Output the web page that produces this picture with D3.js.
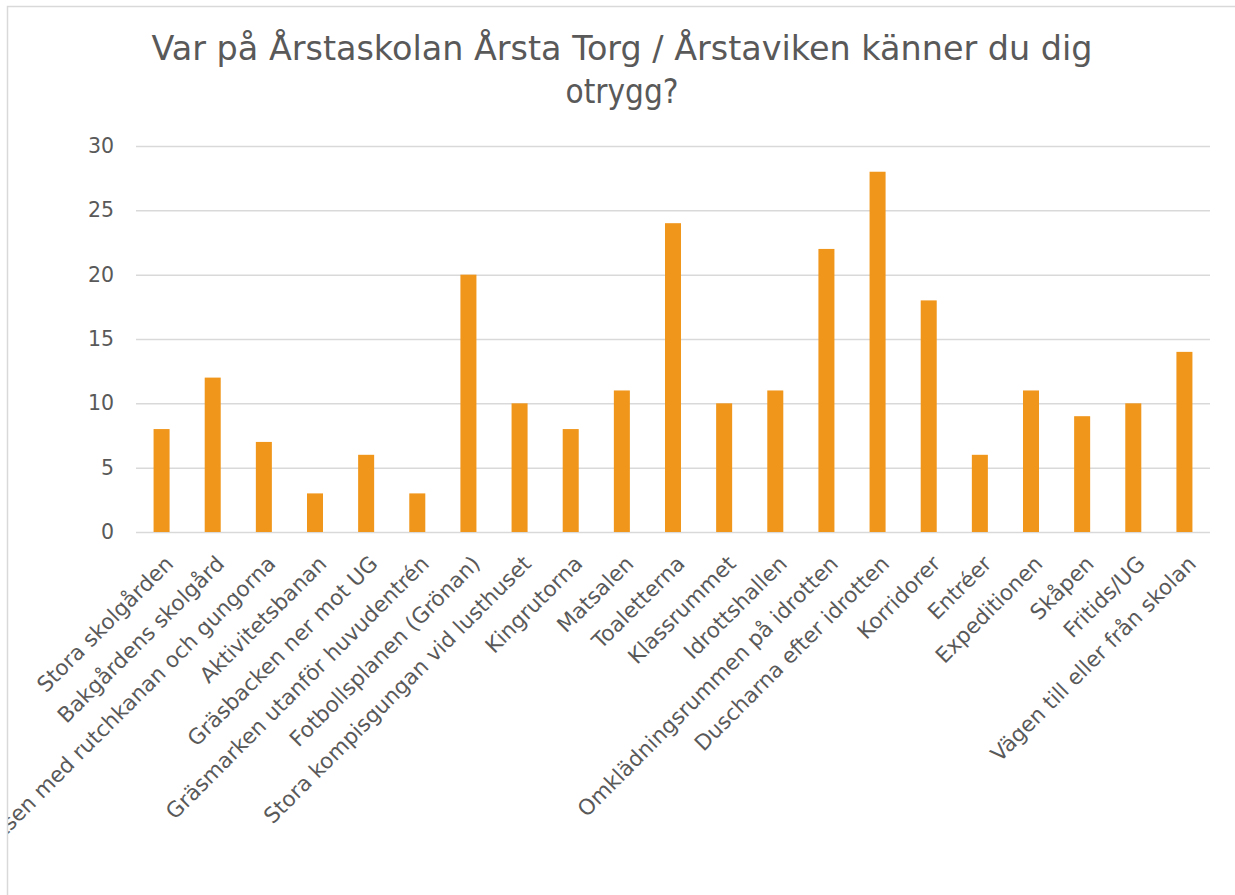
<!DOCTYPE html>
<html>
<head>
<meta charset="utf-8">
<script src="https://cdn.jsdelivr.net/npm/d3@7"></script>
<style>
  body { margin: 0; background: #fff; }
  svg { display: block; }
</style>
</head>
<body>
<div id="chart"></div>
<script>
/* Bar chart - where do pupils feel unsafe at the school */

const categories = [
  "Stora skolgården",
  "Bakgårdens skolgård",
  "Lekplatsen med rutchkanan och gungorna",
  "Aktivitetsbanan",
  "Gräsbacken ner mot UG",
  "Gräsmarken utanför huvudentrén",
  "Fotbollsplanen (Grönan)",
  "Stora kompisgungan vid lusthuset",
  "Kingrutorna",
  "Matsalen",
  "Toaletterna",
  "Klassrummet",
  "Idrottshallen",
  "Omklädningsrummen på idrotten",
  "Duscharna efter idrotten",
  "Korridorer",
  "Entréer",
  "Expeditionen",
  "Skåpen",
  "Fritids/UG",
  "Vägen till eller från skolan"
];
const values = [8, 12, 7, 3, 6, 3, 20, 10, 8, 11, 24, 10, 11, 22, 28, 18, 6, 11, 9, 10, 14];
const yTicks = [0, 5, 10, 15, 20, 25, 30];
const titleLines = ["Var på Årstaskolan Årsta Torg / Årstaviken känner du dig", "otrygg?"];

const width = 1235,
      height = 895,
      margin = ({ top: 146, right: 25, bottom: height - 532, left: 136 });

const font = "'DejaVu Sans', Verdana, sans-serif";

const data = categories.map((c, i) => ({ name: c, value: values[i] }));

let svg = d3.select("#chart")
    .append("svg")
    .attr("width", width)
    .attr("height", height);

// clip so the long label gets cut at the frame like in excel
svg.append("defs").append("clipPath")
    .attr("id", "frame-clip")
    .append("rect")
    .attr("x", 8).attr("y", 6)
    .attr("width", width).attr("height", height);

let g = svg.append("g")
    .attr("clip-path", "url(#frame-clip)");

let x = d3.scaleBand()
    .domain(categories)
    .range([margin.left, width - margin.right])
    .paddingInner(0.687)
    .paddingOuter(0.3435);

let y = d3.scaleLinear()
    .domain([0, 30])
    .range([height - margin.bottom, margin.top]);

// gridlines + y labels
let yAxis = g.append("g")
    .attr("transform", `translate(${margin.left},0)`)
    .call(d3.axisLeft(y).tickValues(yTicks).tickSize(-(width - margin.left - margin.right)).tickPadding(22));

yAxis.select(".domain").remove();
yAxis.selectAll("line")
    .attr("stroke", "#d9d9d9")
    .attr("stroke-width", 1.5);
yAxis.selectAll("text")
    .attr("fill", "#595959")
    .style("font-family", font)
    .style("font-size", "20.5px");

// bars
g.selectAll(".bar")
    .data(data)
    .join("rect")
    .attr("class", "bar")
    .attr("fill", "#f0961a")
    .attr("x", d => x(d.name))
    .attr("width", x.bandwidth())
    .attr("y", d => y(d.value))
    .attr("height", d => y(0) - y(d.value));

// x labels, rotated
let xAxis = g.append("g")
    .attr("transform", `translate(0,${height - margin.bottom})`)
    .call(d3.axisBottom(x).tickSize(0));

xAxis.select(".domain").remove();
xAxis.selectAll("text")
    .attr("x", 0)
    .attr("y", 0)
    .attr("dy", 0)
    .attr("text-anchor", "end")
    .attr("transform", "translate(13,33) rotate(-45)")
    .attr("fill", "#595959")
    .style("font-family", font)
    .style("font-size", "21.5px");

// title, the original font is narrower so squeeze to its width
let title = g.append("text")
    .attr("text-anchor", "middle")
    .attr("fill", "#595959")
    .style("font-family", font)
    .style("font-size", "33px");

title.selectAll("tspan")
    .data(titleLines)
    .join("tspan")
    .attr("x", 622)
    .attr("y", (d, i) => 60 + i * 43)
    .attr("textLength", (d, i) => i == 0 ? 941 : 113)
    .attr("lengthAdjust", "spacingAndGlyphs")
    .text(d => d);

// chart frame (only the top and left edges show)
svg.append("path")
    .attr("d", `M7.5,${height} V6.5 H${width}`)
    .attr("fill", "none")
    .attr("stroke", "#d9d9d9")
    .attr("stroke-width", 1.5);
</script>
</body>
</html>
